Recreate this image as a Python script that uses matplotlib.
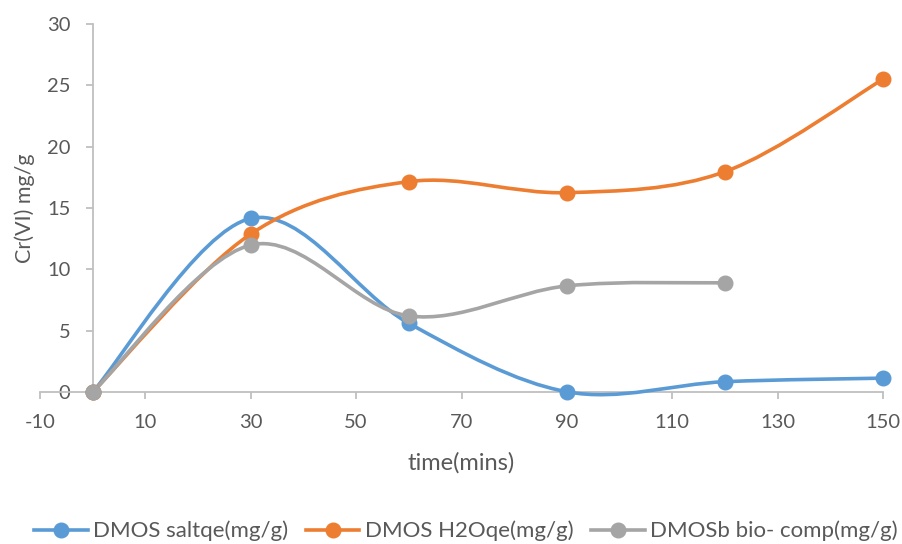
import matplotlib
matplotlib.use("Agg")
import matplotlib.pyplot as plt
from matplotlib.path import Path
from matplotlib.patches import PathPatch
from matplotlib.lines import Line2D
import numpy as np

plt.rcParams['font.family'] = ['Lato', 'DejaVu Sans']
plt.rcParams['axes.unicode_minus'] = False

# Sampling times (minutes)
time_salt = [0, 30, 60, 90, 120, 150]
time_h2o = [0, 30, 60, 90, 120, 150]
time_bio = [0, 30, 60, 90, 120]

# Cr(VI) uptake, mg/g
salt_qe = [0, 14.15, 5.6, 0.02, 0.84, 1.13]
h2o_qe = [0, 12.88, 17.15, 16.25, 17.96, 25.5]
bio_comp = [0, 11.98, 6.2, 8.65, 8.9]

series_names = ["DMOS saltqe(mg/g)", "DMOS H2Oqe(mg/g)", "DMOSb bio- comp(mg/g)"]
colors = ["#5B9BD5", "#ED7D31", "#A5A5A5"]

x_ticks = [-10, 10, 30, 50, 70, 90, 110, 130, 150]
y_ticks = [0, 5, 10, 15, 20, 25, 30]

text_color = "#595959"
axis_color = "#BFBFBF"
LW = 2.6
MS = 10.5


def smooth_path(xs, ys):
    """Cubic Bezier path through the points (Catmull-Rom style tangents)."""
    pts = np.column_stack([xs, ys]).astype(float)
    n = len(pts)
    verts = [pts[0]]
    codes = [Path.MOVETO]
    for i in range(n - 1):
        p_prev = pts[i - 1] if i > 0 else pts[i]
        p0 = pts[i]
        p1 = pts[i + 1]
        p_next = pts[i + 2] if i + 2 < n else pts[i + 1]
        c1 = p0 + (p1 - p_prev) / 6.0
        c2 = p1 - (p_next - p0) / 6.0
        verts += [c1, c2, p1]
        codes += [Path.CURVE4] * 3
    return Path(verts, codes)


fig = plt.figure(figsize=(9.03, 5.44), dpi=100)
ax = fig.add_axes([40 / 903, 1 - 392 / 544, 843 / 903, 368 / 544])

data = [(time_salt, salt_qe), (time_h2o, h2o_qe), (time_bio, bio_comp)]
handles = []
for (xs, ys), c, name in zip(data, colors, series_names):
    patch = PathPatch(smooth_path(xs, ys), facecolor="none", edgecolor=c,
                      lw=LW, capstyle="round", joinstyle="round",
                      clip_on=False, zorder=3)
    ax.add_patch(patch)
    ax.plot(xs, ys, "o", color=c, markersize=MS, clip_on=False, zorder=4)
    handles.append(Line2D([0], [0], color=c, lw=LW, marker="o",
                          markersize=MS, label=name))

ax.set_xlim(-10, 150)
ax.set_ylim(0, 30)
ax.set_xticks(x_ticks)
ax.set_yticks(y_ticks)

ax.spines["top"].set_visible(False)
ax.spines["right"].set_visible(False)
ax.spines["left"].set_position(("data", 0))
for s in ("left", "bottom"):
    ax.spines[s].set_color(axis_color)
    ax.spines[s].set_linewidth(1.3)

ax.tick_params(axis="both", colors=axis_color, length=5, width=1.3,
               labelcolor=text_color, labelsize=14.5)
ax.tick_params(axis="x", pad=11)
ax.tick_params(axis="y", pad=11)

ax.set_xlabel("time(mins)", fontsize=17, color=text_color)
ax.xaxis.set_label_coords(0.5, -(463 - 392) / 368)
ax.xaxis.label.set_va("center")
ax.set_ylabel("Cr(VI) mg/g", fontsize=15.5, color=text_color)
ax.yaxis.set_label_coords(-(40 - 25) / 843, 0.5)
ax.yaxis.label.set_va("center")

fig.legend(handles=handles, loc="center", bbox_to_anchor=(466 / 903, 1 - 531 / 544),
           ncol=3, frameon=False, fontsize=16, labelcolor=text_color,
           handlelength=2.4, columnspacing=0.8, handletextpad=0.25)

fig.savefig("out.png", dpi=100)
